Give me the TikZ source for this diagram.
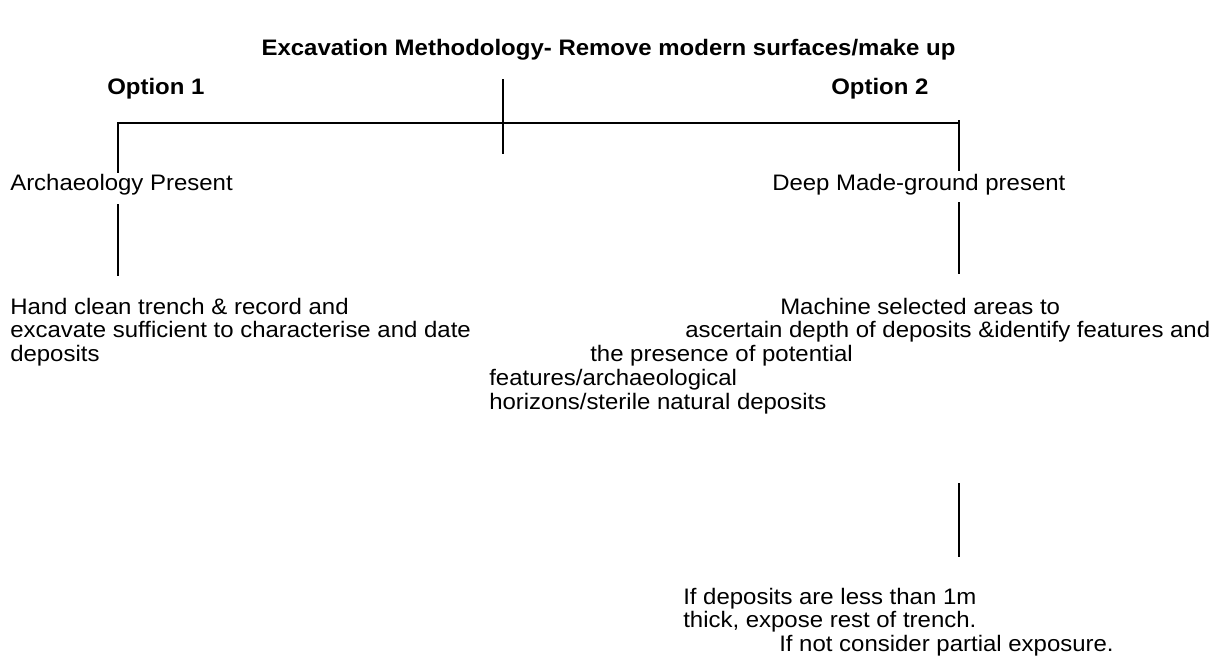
\documentclass[tikz,border=0pt]{standalone}
\usepackage{fontspec}
\setmainfont{Liberation Sans}[FakeStretch=1.07]
\begin{document}
\begin{tikzpicture}[x=0.75pt,y=-0.75pt,
  lbl/.style={anchor=base west, inner sep=0pt, font=\fontsize{16.8pt}{18pt}\selectfont},
  ttl/.style={lbl, font=\fontsize{16.8pt}{18pt}\selectfont\bfseries},
  link/.style={line width=1.3pt, line cap=rect}]
\useasboundingbox (0,0) rectangle (1218,669);

% heading and the two options
\node[ttl, anchor=base] (title) at (608.5,55) {Excavation Methodology- Remove modern surfaces/make up};
\node[ttl] (opt1) at (107,94) {Option 1};
\node[ttl] (opt2) at (831,94) {Option 2};

% option 1 branch
\node[lbl] (arch) at (10,190) {Archaeology Present};
\node[lbl] (hand1) at (10,314) {Hand clean trench \& record and};
\node[lbl] (hand2) at (10,337.5) {excavate sufficient to characterise and date};
\node[lbl] (hand3) at (10,361) {deposits};

% option 2 branch
\node[lbl] (deep) at (772,190) {Deep Made-ground present};
\node[lbl] (mach1) at (780,314) {Machine selected areas to};
\node[lbl] (mach2) at (685,337.5) {ascertain depth of deposits \&identify features and};
\node[lbl] (mach3) at (590,361) {the presence of potential};
\node[lbl] (mach4) at (489,385) {features/archaeological};
\node[lbl] (mach5) at (489,409) {horizons/sterile natural deposits};
\node[lbl] (res1) at (683,604) {If deposits are less than 1m};
\node[lbl] (res2) at (683,627.5) {thick, expose rest of trench.};
\node[lbl] (res3) at (779,651) {If not consider partial exposure.};

% connector end points
\coordinate (stemT) at (503,80);
\coordinate (stemB) at (503,153);
\coordinate (barL) at (118,123);
\coordinate (barR) at (959,123);
\coordinate (barRt) at (959,121);
\coordinate (l1a) at (118,172);
\coordinate (r1a) at (959,170);
\coordinate (l2a) at (118,205);
\coordinate (l2b) at (118,275);
\coordinate (r2a) at (959,203);
\coordinate (r2b) at (959,273);
\coordinate (r3a) at (959,484);
\coordinate (r3b) at (959,556);

% connectors
\draw[link] (stemT) -- (stemB);
\draw[link] (l1a) -- (barL) -- (barR);
\draw[link] (barRt) -- (r1a);
\draw[link] (l2a) -- (l2b);
\draw[link] (r2a) -- (r2b);
\draw[link] (r3a) -- (r3b);
\end{tikzpicture}
\end{document}
